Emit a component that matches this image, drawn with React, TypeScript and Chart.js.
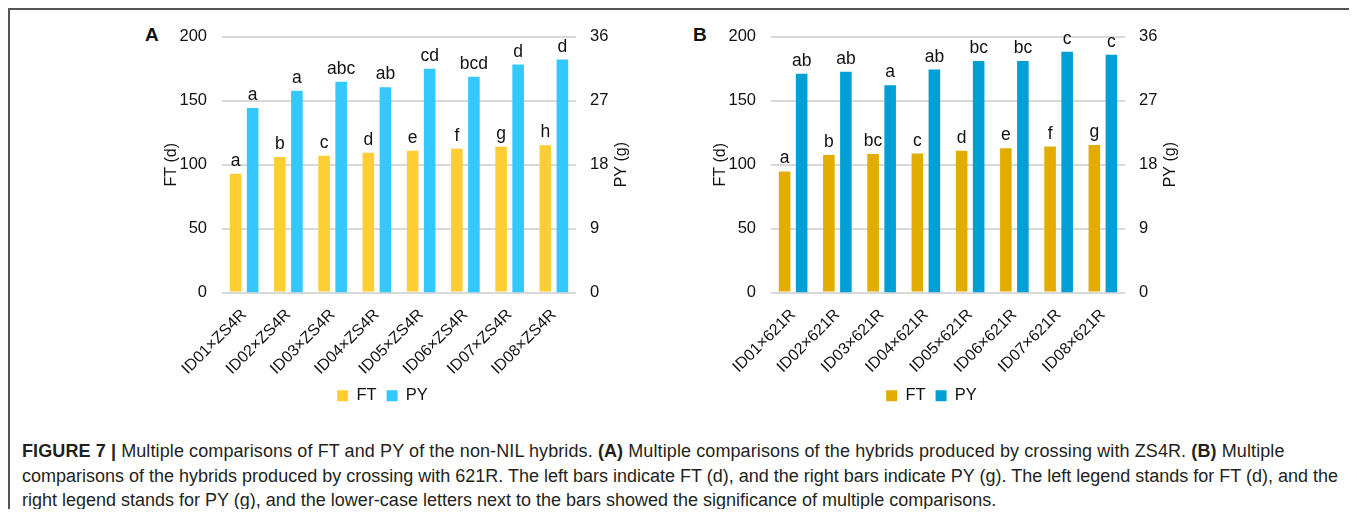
import React, { useEffect, useRef } from "react";
import { Chart, registerables } from "chart.js";

Chart.register(...registerables);

const FONT = "'Liberation Sans', Arial, Helvetica, sans-serif";

// ---------- data ----------
const categoriesA = ["ID01×ZS4R", "ID02×ZS4R", "ID03×ZS4R", "ID04×ZS4R", "ID05×ZS4R", "ID06×ZS4R", "ID07×ZS4R", "ID08×ZS4R"];
const ftA = [93, 106, 107, 109.3, 111, 112.4, 114, 115.3];
const pyA = [26.0, 28.4, 29.7, 28.9, 31.5, 30.4, 32.1, 32.8];
const ftLettersA = ["a", "b", "c", "d", "e", "f", "g", "h"];
const pyLettersA = ["a", "a", "abc", "ab", "cd", "bcd", "d", "d"];

const categoriesB = ["ID01×621R", "ID02×621R", "ID03×621R", "ID04×621R", "ID05×621R", "ID06×621R", "ID07×621R", "ID08×621R"];
const ftB = [94.7, 107.6, 108.4, 108.7, 111, 112.8, 114.2, 115.4];
const pyB = [30.8, 31.1, 29.2, 31.4, 32.6, 32.6, 33.9, 33.5];
const ftLettersB = ["a", "b", "bc", "c", "d", "e", "f", "g"];
const pyLettersB = ["ab", "ab", "a", "ab", "bc", "bc", "c", "c"];

const ftRange = [0, 200];
const ftStep = 50;
const pyRange = [0, 36];
const pyStep = 9;

const seriesNames = ["FT", "PY"];
const ftTitle = "FT (d)";
const pyTitle = "PY (g)";

const colorsA = ["#FFCE33", "#33C8FF"];
const colorsB = ["#E2AD00", "#00A0D6"];

// ---------- plugins ----------
const lettersPlugin = {
  id: "letters",
  afterDatasetsDraw(chart: any, _args: any, opts: any) {
    const sets: string[][] = opts.sets || [];
    const ctx = chart.ctx;
    ctx.save();
    ctx.font = `17.5px ${FONT}`;
    ctx.fillStyle = "#111";
    ctx.textAlign = "center";
    ctx.textBaseline = "alphabetic";
    chart.data.datasets.forEach((_ds: any, i: number) => {
      const meta = chart.getDatasetMeta(i);
      const letters = sets[i] || [];
      meta.data.forEach((bar: any, j: number) => {
        const p = bar.getProps(["x", "y"], true);
        if (letters[j]) ctx.fillText(letters[j], p.x, p.y - 8);
      });
    });
    ctx.restore();
  },
};

const rightTitlePlugin = {
  id: "rightTitle",
  afterDraw(chart: any, _args: any, opts: any) {
    const ctx = chart.ctx;
    const ca = chart.chartArea;
    ctx.save();
    ctx.font = `16px ${FONT}`;
    ctx.fillStyle = "#111";
    ctx.textAlign = "center";
    ctx.textBaseline = "middle";
    ctx.translate(ca.right + (opts.offset || 46), (ca.top + ca.bottom) / 2);
    ctx.rotate(-Math.PI / 2);
    ctx.fillText(opts.text || "", 0, 0);
    ctx.restore();
  },
};

function makeConfig(labels: string[], ft: number[], py: number[], colors: string[], ftLetters: string[], pyLetters: string[]) {
  return {
    type: "bar" as const,
    data: {
      labels,
      datasets: [
        {
          label: seriesNames[0],
          data: ft,
          backgroundColor: colors[0],
          borderWidth: 0,
          yAxisID: "y",
          categoryPercentage: 0.77,
          barPercentage: 0.68,
        },
        {
          label: seriesNames[1],
          data: py,
          backgroundColor: colors[1],
          borderWidth: 0,
          yAxisID: "y1",
          categoryPercentage: 0.77,
          barPercentage: 0.68,
        },
      ],
    },
    options: {
      responsive: false,
      animation: false as const,
      layout: { padding: { top: 23, left: 0, right: 0, bottom: 0 } },
      plugins: {
        tooltip: { enabled: false },
        legend: {
          position: "bottom" as const,
          labels: {
            font: { size: 16.5, family: FONT },
            color: "#111",
            boxWidth: 11,
            boxHeight: 11,
            padding: 10,
          },
        },
        letters: { sets: [ftLetters, pyLetters] },
        rightTitle: { text: pyTitle, offset: 46 },
      },
      scales: {
        x: {
          grid: { display: false, drawTicks: false },
          border: { display: false },
          ticks: {
            font: { size: 16, family: FONT },
            color: "#111",
            minRotation: 45,
            maxRotation: 45,
            autoSkip: false,
            padding: 13,
          },
          afterFit: (s: any) => {
            s.height = 85;
          },
        },
        y: {
          position: "left" as const,
          min: ftRange[0],
          max: ftRange[1],
          ticks: { stepSize: ftStep, padding: 15, font: { size: 16.5, family: FONT }, color: "#111" },
          grid: { color: "#D9D9D9", lineWidth: 2, drawTicks: false },
          border: { display: false },
          title: {
            display: true,
            text: ftTitle,
            font: { size: 16, family: FONT },
            color: "#111",
            padding: { top: 32, bottom: 0 },
          },
          afterFit: (s: any) => {
            s.width = 92;
          },
        },
        y1: {
          position: "right" as const,
          min: pyRange[0],
          max: pyRange[1],
          ticks: { stepSize: pyStep, padding: 14, font: { size: 16.5, family: FONT }, color: "#111" },
          grid: { display: false, drawTicks: false },
          border: { display: false },
          afterFit: (s: any) => {
            s.width = 59;
          },
        },
      },
    },
    plugins: [lettersPlugin, rightTitlePlugin],
  };
}

function Panel(props: { labels: string[]; ft: number[]; py: number[]; colors: string[]; ftLetters: string[]; pyLetters: string[]; style: React.CSSProperties }) {
  const ref = useRef<HTMLCanvasElement | null>(null);
  useEffect(() => {
    if (!ref.current) return;
    const chart = new Chart(ref.current, makeConfig(props.labels, props.ft, props.py, props.colors, props.ftLetters, props.pyLetters) as any);
    return () => chart.destroy();
  }, []);
  return <canvas ref={ref} width={505} height={402} style={{ position: "absolute", width: 505, height: 402, ...props.style }} />;
}

const captionLine: React.CSSProperties = {
  position: "absolute",
  left: 14,
  fontSize: 18,
  lineHeight: "24.5px",
  color: "#231F20",
  whiteSpace: "nowrap",
};

export default function App() {
  return (
    <div style={{ position: "relative", width: 1349, height: 509, marginBottom: -8, overflow: "hidden", fontFamily: FONT }}>
      <div
        style={{
          position: "absolute",
          left: 0,
          top: 0,
          width: 1348,
          height: 520,
          boxSizing: "border-box",
          borderLeft: "2px solid #555",
          borderTop: "2px solid #555",
          borderRight: "2px solid #555",
        }}
      />
      <div style={{ position: "absolute", left: 137, top: 17, fontSize: 19, fontWeight: "bold", lineHeight: "19px", color: "#111" }}>A</div>
      <div style={{ position: "absolute", left: 685, top: 17, fontSize: 19, fontWeight: "bold", lineHeight: "19px", color: "#111" }}>B</div>
      <Panel labels={categoriesA} ft={ftA} py={pyA} colors={colorsA} ftLetters={ftLettersA} pyLetters={pyLettersA} style={{ left: 122, top: 4 }} />
      <Panel labels={categoriesB} ft={ftB} py={pyB} colors={colorsB} ftLetters={ftLettersB} pyLetters={pyLettersB} style={{ left: 671, top: 4 }} />
      <div style={{ ...captionLine, top: 431, letterSpacing: "0.1px" }}>
        <b>FIGURE 7 |</b> Multiple comparisons of FT and PY of the non-NIL hybrids. <b>(A)</b> Multiple comparisons of the hybrids produced by crossing with ZS4R. <b>(B)</b> Multiple
      </div>
      <div style={{ ...captionLine, top: 455.5 }}>
        comparisons of the hybrids produced by crossing with 621R. The left bars indicate FT (d), and the right bars indicate PY (g). The left legend stands for FT (d), and the
      </div>
      <div style={{ ...captionLine, top: 480 }}>
        right legend stands for PY (g), and the lower-case letters next to the bars showed the significance of multiple comparisons.
      </div>
    </div>
  );
}
